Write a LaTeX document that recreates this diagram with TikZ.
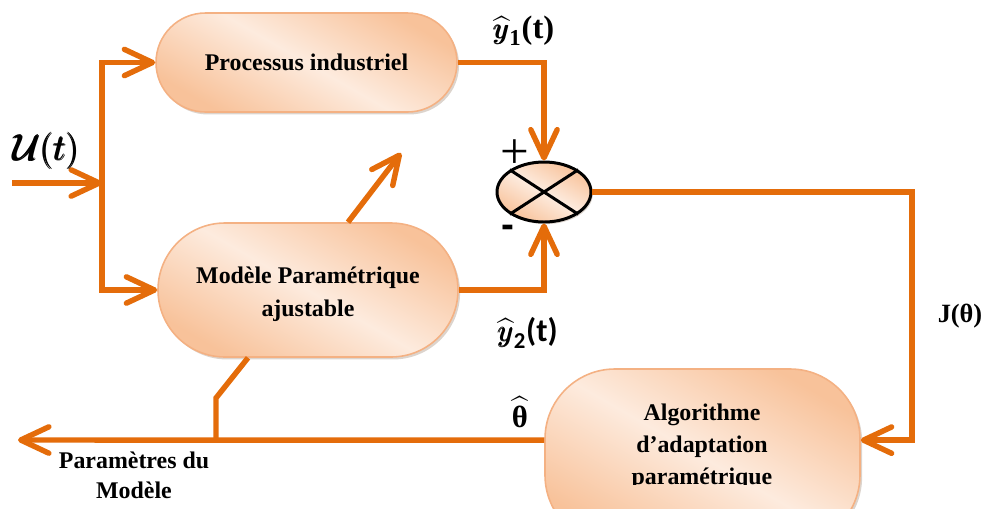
\documentclass[tikz,border=0pt]{standalone}
\usepackage{fontspec}
\usepackage{amsmath}
\setmainfont{Liberation Serif}
\newfontfamily\calib{Carlito}
\newfontfamily\lsans{Liberation Sans}
\usetikzlibrary{arrows.meta,shapes.geometric,shadows,calc}
\newdimen\pxu \pxu=0.02cm

\definecolor{lineorange}{HTML}{E46C0A}
\definecolor{peachdark}{HTML}{F8C29A}
\definecolor{peachlight}{HTML}{FDEBDE}
\definecolor{peachedge}{HTML}{F4B183}
\definecolor{shadowtone}{HTML}{9C8370}

\begin{document}
\begin{tikzpicture}[x=0.02cm,y=-0.02cm,
  >={Straight Barb[length=16pt,width=15pt,round]},
  wire/.style={draw=lineorange, line width=3.1pt},
  peach/.style={top color=peachdark, bottom color=peachdark, middle color=peachlight, shading angle=-30},
  pill/.style={rectangle, draw=peachedge, line width=0.9pt, peach,
    drop shadow={shadow xshift=1.2pt, shadow yshift=-1.4pt, opacity=0.35, fill=shadowtone},
    inner sep=0pt},
  boxtext/.style={font=\fontsize{13.6}{18.7}\selectfont\bfseries, align=center, inner sep=0pt},
  lab/.style={inner sep=0pt}
]
\useasboundingbox (0,0) rectangle (992,508);

% blocks
\node[pill, minimum width=301\pxu, minimum height=99\pxu, rounded corners=49.5\pxu,
      boxtext] (proc) at (306.5,62.5) {Processus industriel};
\node[pill, minimum width=300\pxu, minimum height=134\pxu, rounded corners=67\pxu] (model) at (308,290) {};
\node[boxtext] (modeltext) at (308,294) {Modèle Paramétrique\\ajustable};
\node[pill, minimum width=315\pxu, minimum height=176\pxu, rounded corners=70\pxu] (algo) at (702.5,457) {};
\begin{scope}
  \clip (545,360) rectangle (860,484);
  \node[boxtext, font=\fontsize{13.6}{18.2}\selectfont\bfseries] (algotext) at (702,447) {Algorithme\\d’adaptation\\paramétrique};
\end{scope}

% summing junction
\node[ellipse, draw=black, line width=1.7pt, peach, minimum width=94\pxu, minimum height=60\pxu, inner sep=0pt,
      drop shadow={shadow xshift=1pt, shadow yshift=-1.2pt, opacity=0.35, fill=shadowtone}] (sum) at (544,192) {};
\draw[line width=1.7pt] (sum.north west) -- (sum.south east);
\draw[line width=1.7pt] (sum.north east) -- (sum.south west);
\node[lab, font=\fontsize{29}{30}\selectfont] (plus) at (515,154) {+};
\node[lab, font=\lsans\fontsize{22}{24}\selectfont\bfseries] (minus) at (508,231) {-};

% helper points
\coordinate (inL) at (12,183);
\coordinate (tMid) at (102,183);
\coordinate (rc) at (912,192);
\coordinate (outL) at (18,440);
\coordinate (br) at (216,440);
\coordinate (brK) at (216,398);
\coordinate (adj) at (401,153);

% connectors
\draw[wire,->] (inL) -- (tMid);
\draw[wire,<->] (proc.west) -- (proc.west -| tMid) -- (model.west -| tMid) -- (model.west);
\draw[wire,->] (proc.east) -- (proc.east -| sum) -- (sum.north);
\draw[wire,->] (model.east) -- (model.east -| sum) -- (sum.south);
\draw[wire,->] (sum.east) -- (sum.east -| rc) -- ([yshift=9.6pt]algo.east -| rc) -- ([yshift=9.6pt]algo.east);
\draw[wire,->] ([yshift=9.6pt]algo.west) -- (outL);
\draw[wire] (br) -- (brK) -- ($(model.south)+(-60,0)$);
\draw[wire,->] ($(model.north)+(40,0)$) -- (adj);

% signal labels
\node[lab, font=\fontsize{20.5}{22}\selectfont] (ulab) at (47,151) {$\pmb{\mathcal{U}(t)}$};
\node[lab, font=\fontsize{18.5}{20}\selectfont] (y1lab) at (524,31) {$\widehat{\pmb{y}}_{\textbf{1}}$\textbf{(t)}};
\node[lab, font=\fontsize{18.5}{20}\selectfont] (y2lab) at (528,333) {$\widehat{\pmb{y}}_{\text{\calib\bfseries 2}}${\calib\bfseries(t)}};
\node[lab, font=\fontsize{17.5}{19}\selectfont] (thlab) at (520,412) {$\widehat{\textbf{θ}}$};
\node[lab, font=\fontsize{15}{17}\selectfont\bfseries] (jlab) at (960,316) {J(θ)};
\node[boxtext, font=\fontsize{13.6}{17}\selectfont\bfseries] (plab) at (134,475) {Paramètres du\\Modèle};
\end{tikzpicture}
\end{document}
